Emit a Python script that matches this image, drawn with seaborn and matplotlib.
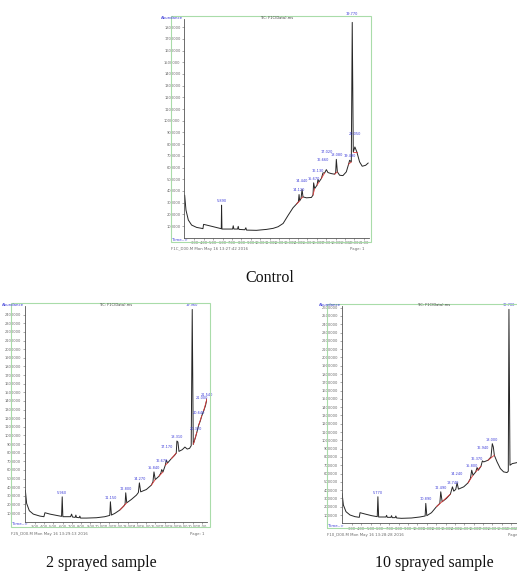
import numpy as np
import pandas as pd
import matplotlib
matplotlib.use("Agg")
import matplotlib.pyplot as plt
import seaborn as sns
from matplotlib.patches import Rectangle

# ---------------- chromatogram data (retention time in min, abundance in counts) ----------------
ctrl_time = [1.97, 2.11, 2.36, 2.71, 3.24, 3.77, 3.91, 3.98, 4.30, 5.01, 5.71, 5.86, 5.89, 5.93,
             6.60, 7.06, 7.13, 7.20, 7.59, 7.66, 7.73, 8.36, 8.47, 8.54, 9.60, 10.66, 11.37, 11.90,
             12.43, 12.95, 13.48, 13.84, 14.05, 14.12, 14.19, 14.33, 14.44, 14.54, 14.90, 15.43,
             15.60, 15.67, 15.78, 16.03, 16.13, 16.24, 16.49, 16.66, 16.84, 17.02, 17.19, 17.55,
             17.90, 18.01, 18.08, 18.19, 18.43, 18.78, 19.14, 19.38, 19.49, 19.67, 19.77, 19.88,
             20.05, 20.26, 20.55, 20.83, 21.19, 21.47]
ctrl_abund = [364000, 236000, 151000, 108000, 88000, 80000, 77000, 114000, 108000, 94000, 80000,
              77000, 278000, 74000, 74000, 74000, 102000, 74000, 74000, 97000, 71000, 68000, 85000,
              65000, 63000, 71000, 80000, 94000, 122000, 190000, 256000, 287000, 307000, 369000,
              315000, 335000, 412000, 349000, 341000, 344000, 364000, 469000, 420000, 449000,
              497000, 477000, 506000, 554000, 554000, 582000, 557000, 548000, 543000, 557000,
              670000, 563000, 534000, 531000, 563000, 628000, 662000, 648000, 1841000, 733000,
              776000, 733000, 648000, 611000, 619000, 639000]
ctrl_peaks = [5.89, 14.12, 14.44, 15.67, 16.13, 16.66, 17.02, 18.08, 19.49, 19.77, 20.05]
ctrl_events = [(13.84, 14.19), (14.33, 14.54), (15.60, 15.78), (16.03, 16.24), (16.49, 16.84),
               (17.90, 18.19), (19.38, 19.67), (19.88, 20.26)]

spray2_time = [1.99, 2.13, 2.42, 2.85, 3.56, 3.99, 4.10, 4.64, 5.35, 5.89, 5.96, 6.03, 6.86, 6.97,
               7.07, 7.36, 7.43, 7.50, 7.79, 7.86, 7.93, 8.58, 9.65, 10.55, 11.08, 11.15, 11.26,
               11.62, 12.16, 12.59, 12.73, 12.80, 12.91, 13.41, 13.95, 14.16, 14.27, 14.41, 15.02,
               15.55, 15.73, 15.84, 15.98, 16.38, 16.59, 16.67, 16.81, 17.06, 17.17, 17.31, 17.71,
               18.06, 18.24, 18.31, 18.42, 18.53, 18.89, 19.17, 19.42, 19.67, 19.85, 19.96, 20.07,
               20.32, 20.46, 20.64, 20.82, 21.00, 21.18, 21.39, 21.54]
spray2_abund = [365000, 212000, 127000, 88000, 65000, 58000, 104000, 88000, 73000, 62000, 288000,
                58000, 58000, 88000, 54000, 50000, 77000, 50000, 46000, 65000, 42000, 42000, 46000,
                58000, 73000, 231000, 77000, 96000, 135000, 181000, 204000, 335000, 219000, 258000,
                308000, 338000, 450000, 346000, 373000, 423000, 462000, 577000, 488000, 527000,
                565000, 604000, 577000, 654000, 712000, 681000, 731000, 769000, 796000, 935000,
                923000, 815000, 835000, 865000, 842000, 850000, 881000, 2460000, 896000, 981000,
                1038000, 1115000, 1165000, 1231000, 1281000, 1346000, 1423000]
spray2_peaks = [5.96, 11.15, 12.80, 14.27, 15.84, 16.67, 17.17, 18.31, 19.96, 20.32, 20.64,
                21.00, 21.54]
spray2_events = [(12.16, 12.91), (15.55, 15.98), (16.38, 16.81), (17.06, 17.31), (17.71, 18.24),
                 (20.07, 20.46), (20.64, 21.00), (21.18, 21.54)]

spray10_time = [1.94, 2.08, 2.36, 2.79, 3.32, 3.78, 3.86, 4.39, 5.10, 5.70, 5.77, 5.85, 6.63,
                6.70, 6.77, 7.16, 7.23, 7.30, 7.62, 7.69, 7.77, 8.30, 9.37, 10.25, 10.82, 10.89,
                11.00, 11.50, 12.03, 12.39, 12.49, 12.64, 13.10, 13.52, 13.74, 13.88, 14.09,
                14.24, 14.38, 14.95, 15.41, 15.66, 15.80, 15.94, 16.23, 16.37, 16.51, 16.79,
                16.94, 17.08, 17.54, 17.86, 18.00, 18.11, 18.22, 18.51, 18.86, 19.21, 19.57,
                19.71, 19.78, 19.89, 20.14, 20.49, 20.92, 21.45]
spray10_abund = [360000, 220000, 140000, 100000, 80000, 72000, 128000, 112000, 92000, 80000,
                 320000, 76000, 76000, 96000, 72000, 72000, 92000, 68000, 68000, 88000, 64000,
                 60000, 64000, 76000, 88000, 240000, 92000, 128000, 200000, 240000, 380000,
                 260000, 300000, 352000, 440000, 388000, 408000, 488000, 412000, 440000, 488000,
                 540000, 640000, 580000, 620000, 672000, 640000, 688000, 752000, 740000, 760000,
                 800000, 960000, 920000, 820000, 740000, 660000, 620000, 612000, 628000, 2580000,
                 700000, 720000, 728000, 740000, 752000]
spray10_peaks = [5.77, 10.89, 12.49, 13.74, 14.24, 15.80, 16.37, 16.94, 18.00, 19.78]
spray10_events = [(12.03, 13.52), (15.41, 15.94), (16.23, 16.79), (17.54, 18.22)]

time_ticks = [3, 4, 5, 6, 7, 8, 9, 10, 11, 12, 13, 14, 15, 16, 17, 18, 19, 20, 21]
captions = ["Control", "2 sprayed sample", "10 sprayed sample"]
footers = ["F1C_D00.M Mon May 16 13:27:42 2016",
           "F2S_D00.M Mon May 16 13:29:13 2016",
           "F10_D00.M Mon May 16 13:28:28 2016"]
data_title = "TIC: F1C(Data).ms"

# ---------------- figure ----------------
sns.set_style("white")
plt.rcParams["font.family"] = ["DejaVu Sans"]

W, H = 517, 571
fig = plt.figure(figsize=(W / 100, H / 100), dpi=100)
fig.patch.set_facecolor("white")


def fig_box(x0, y0, x1, y1):
    return [x0 / W, 1 - y1 / H, (x1 - x0) / W, (y1 - y0) / H]


TRACE = "#262626"
BLUE = "#3a3ad8"
FRAME = "#a9dca9"
GREY = "#6a6a6a"

panels = [
    dict(t=ctrl_time, a=ctrl_abund, peaks=ctrl_peaks, events=ctrl_events, ymax=1870000,
         ax=(184, 19, 369, 237.7), frame=(171, 16, 371, 242), cap=(270, 278)),
    dict(t=spray2_time, a=spray2_abund, peaks=spray2_peaks, events=spray2_events, ymax=2500000,
         ax=(24.5, 306, 207, 521.7), frame=(11, 303, 210, 526.5), cap=(101, 563)),
    dict(t=spray10_time, a=spray10_abund, peaks=spray10_peaks, events=spray10_events,
         ymax=2620000, ax=(341.7, 306, 525.5, 523.3), frame=(327, 304, 529, 528), cap=(434, 563)),
]

for i, p in enumerate(panels):
    x0, y0, x1, y1 = p["ax"]
    ax = fig.add_axes(fig_box(x0, y0, x1, y1))
    df = pd.DataFrame({"time": p["t"], "abund": p["a"]})
    sns.lineplot(data=df, x="time", y="abund", ax=ax, color=TRACE, lw=0.7,
                 estimator=None, sort=False)

    # integration baselines
    tt = np.asarray(p["t"])
    aa = np.asarray(p["a"])
    for s, e in p["events"]:
        ax.plot([s, e], [np.interp(s, tt, aa), np.interp(e, tt, aa)],
                color="#e03a3a", lw=0.6, zorder=3)

    # peak retention-time labels, stacked in rows when neighbours are close
    last_rt, level = -10.0, 0
    for rt in p["peaks"]:
        level = (level + 1) % 4 if rt - last_rt < 1.0 else 0
        last_rt = rt
        top = np.interp(rt, tt, aa)
        ax.annotate(f"{rt:.3f}", (rt, top), xytext=(0, 1.5 + 3.2 * level),
                    textcoords="offset points", ha="center", va="bottom", fontsize=2.5,
                    color=BLUE, zorder=4, annotation_clip=False)

    ax.set_xlim(1.9, 21.55)
    ax.set_ylim(0, p["ymax"])
    ax.set_xticks(time_ticks)
    ax.set_xticklabels([f"{v:.2f}" for v in time_ticks])
    yt = list(range(100000, p["ymax"], 100000))
    ax.set_yticks(yt)
    ax.set_yticklabels([str(v) for v in yt])
    ax.set_xlabel("")
    ax.set_ylabel("")
    ax.tick_params(axis="both", labelsize=2.6, length=1.5, width=0.4, pad=1,
                   colors=GREY, direction="out")
    ax.tick_params(bottom=True, left=True)
    for side in ("top", "right"):
        ax.spines[side].set_visible(False)
    for side in ("left", "bottom"):
        ax.spines[side].set_color("#555555")
        ax.spines[side].set_linewidth(0.6)
    ax.patch.set_alpha(0)

    # instrument frame and annotations
    fx0, fy0, fx1, fy1 = p["frame"]
    fig.patches.append(Rectangle((fx0 / W, 1 - fy1 / H), (fx1 - fx0) / W, (fy1 - fy0) / H,
                                 transform=fig.transFigure, fill=False, ec=FRAME, lw=0.8))
    fig.text((x0 - 1) / W, 1 - (y0 - 1) / H, "Abundance", ha="right", va="center",
             fontsize=2.8, color=BLUE)
    fig.text((fx0 + 1.5) / W, 1 - (y1 + 2.5) / H, "Time-->", ha="left", va="center",
             fontsize=2.8, color=BLUE)
    fig.text((x0 + x1) / 2 / W, 1 - (y0 - 1) / H, data_title, ha="center", va="center",
             fontsize=2.6, color="#444444")
    fig.text(fx0 / W, 1 - (fy1 + 7) / H, footers[i], ha="left", va="center",
             fontsize=2.8, color=GREY)
    fig.text((fx1 - 6) / W, 1 - (fy1 + 7) / H, "Page: 1", ha="right", va="center",
             fontsize=2.8, color=GREY)

    cx, cy = p["cap"]
    fig.text(cx / W, 1 - cy / H, captions[i], ha="center", va="center",
             fontsize=11.5, family="Liberation Serif", color="#111111")

fig.savefig("out.png", dpi=100)
